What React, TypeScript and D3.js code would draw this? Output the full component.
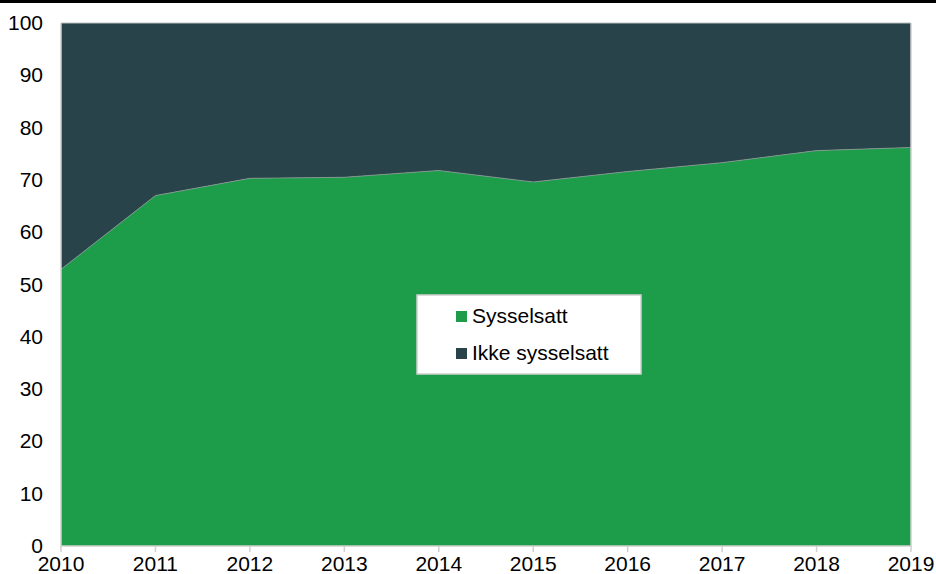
import { useEffect, useRef } from 'react';
import * as d3 from 'd3';

const years = ['2010', '2011', '2012', '2013', '2014', '2015', '2016', '2017', '2018', '2019'];
const sysselsatt = [52.9, 67.0, 70.3, 70.5, 71.8, 69.6, 71.6, 73.3, 75.6, 76.2];
const ikkeSysselsatt = sysselsatt.map(v => 100 - v);
const yTicks = [0, 10, 20, 30, 40, 50, 60, 70, 80, 90, 100];
const seriesNames = ['Sysselsatt', 'Ikke sysselsatt'];
const colors = ['#1d9c4a', '#29434a'];

export default function App() {
  const ref = useRef<SVGSVGElement>(null);

  useEffect(() => {
    if (!ref.current) return;
    const svg = d3.select(ref.current);
    svg.selectAll('*').remove();

    const width = 936;
    const height = 574;
    const margin = { top: 23, right: 25, bottom: 28, left: 61 };
    const innerW = width - margin.left - margin.right;
    const innerH = height - margin.top - margin.bottom;
    const font = 'Liberation Sans, Arial, sans-serif';

    // black line across the top
    svg.append('rect')
      .attr('x', 0).attr('y', 0)
      .attr('width', width).attr('height', 3)
      .attr('fill', '#000');

    const g = svg.append('g')
      .attr('transform', `translate(${margin.left},${margin.top})`);

    const x = d3.scalePoint<string>()
      .domain(years)
      .range([0, innerW]);

    const y = d3.scaleLinear()
      .domain([0, 100])
      .range([innerH, 0]);

    const data = years.map((yr, i) => ({ yr, a: sysselsatt[i], b: ikkeSysselsatt[i] }));
    const stack = d3.stack<{ yr: string; a: number; b: number }>().keys(['a', 'b']);
    const layers = stack(data);

    const area = d3.area<d3.SeriesPoint<{ yr: string; a: number; b: number }>>()
      .x(d => x(d.data.yr) as number)
      .y0(d => y(d[0]))
      .y1(d => y(d[1]));

    g.selectAll('.layer')
      .data(layers)
      .enter()
      .append('path')
      .attr('class', 'layer')
      .attr('d', area)
      .attr('fill', (d, i) => colors[i]);

    // thin boundary line between the two areas
    const line = d3.line<number>()
      .x((d, i) => x(years[i]) as number)
      .y(d => y(d));
    g.append('path')
      .datum(sysselsatt)
      .attr('d', line)
      .attr('fill', 'none')
      .attr('stroke', '#8a9a96')
      .attr('stroke-width', 0.8);

    // plot frame (left, right, bottom) in light gray
    g.append('path')
      .attr('d', `M0,0V${innerH}H${innerW}V0`)
      .attr('fill', 'none')
      .attr('stroke', '#d0d0d0')
      .attr('stroke-width', 1.5);
    g.append('line')
      .attr('x1', 0).attr('x2', innerW)
      .attr('y1', 0).attr('y2', 0)
      .attr('stroke', '#b8c0bf')
      .attr('stroke-width', 1);

    // x tick marks
    g.selectAll('.xtick')
      .data(years)
      .enter()
      .append('line')
      .attr('x1', d => x(d) as number)
      .attr('x2', d => x(d) as number)
      .attr('y1', innerH)
      .attr('y2', innerH + 6)
      .attr('stroke', '#d0d0d0')
      .attr('stroke-width', 1.5);

    // x labels
    g.selectAll('.xlabel')
      .data(years)
      .enter()
      .append('text')
      .attr('x', d => x(d) as number)
      .attr('y', innerH + 25)
      .attr('text-anchor', 'middle')
      .attr('font-family', font)
      .attr('font-size', 21)
      .attr('fill', '#000')
      .text(d => d);

    // y labels
    g.selectAll('.ylabel')
      .data(yTicks)
      .enter()
      .append('text')
      .attr('x', -18)
      .attr('y', d => y(d) + 7)
      .attr('text-anchor', 'end')
      .attr('font-family', font)
      .attr('font-size', 21)
      .attr('fill', '#000')
      .text(d => d);

    // legend
    const lg = svg.append('g').attr('transform', 'translate(417,295)');
    lg.append('rect')
      .attr('width', 224).attr('height', 79)
      .attr('fill', '#fff')
      .attr('stroke', '#d0d0d0')
      .attr('stroke-width', 1.5);
    seriesNames.forEach((name, i) => {
      const row = lg.append('g').attr('transform', `translate(39,${21 + i * 37})`);
      row.append('rect')
        .attr('x', 0).attr('y', -5)
        .attr('width', 11).attr('height', 11)
        .attr('fill', colors[i]);
      row.append('text')
        .attr('x', 16).attr('y', 7)
        .attr('font-family', font)
        .attr('font-size', 21)
        .attr('fill', '#000')
        .text(name);
    });
  }, []);

  return (
    <svg ref={ref} width={936} height={574}
      style={{ position: 'absolute', left: 0, top: 0, background: '#fff' }} />
  );
}
